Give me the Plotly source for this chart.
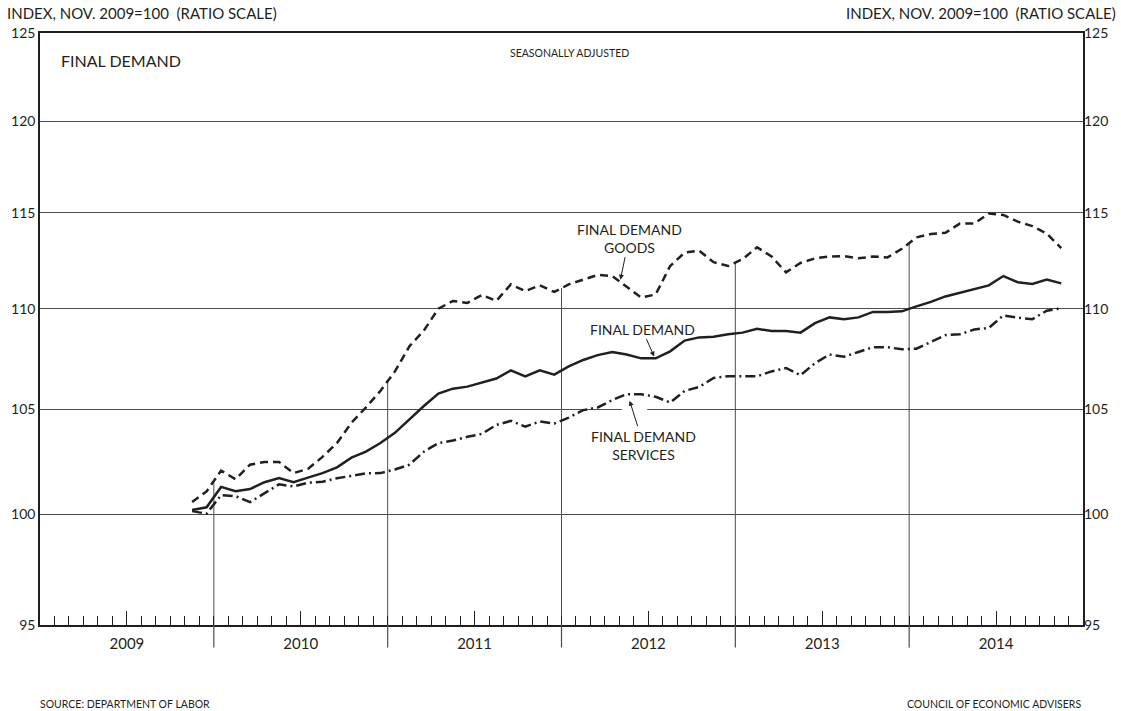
import numpy as np
import pandas as pd
import plotly.graph_objects as go

# ---------------- data ----------------
start_month = "2009-11"
n_months = 61
months = [str(p) for p in pd.period_range(start_month, periods=n_months, freq="M")]

final_demand_goods = [
    100.57, 101.07, 102.05, 101.64, 102.33, 102.46, 102.46, 101.93, 102.13, 102.70,
    103.36, 104.34, 105.08, 105.89, 106.85, 108.10, 108.90, 110.00, 110.40, 110.30,
    110.70, 110.40, 111.25, 110.90, 111.20, 110.86, 111.25, 111.50, 111.74, 111.68,
    111.14, 110.57, 110.73, 112.20, 112.90, 113.00, 112.40, 112.20, 112.56, 113.18,
    112.70, 111.87, 112.36, 112.60, 112.70, 112.72, 112.60, 112.70, 112.65, 113.10,
    113.70, 113.88, 113.94, 114.43, 114.43, 114.97, 114.89, 114.53, 114.30, 113.90,
    113.13,
]
final_demand = [
    100.20, 100.33, 101.28, 101.08, 101.18, 101.50, 101.70, 101.50, 101.72, 101.93,
    102.20, 102.66, 102.95, 103.36, 103.85, 104.50, 105.15, 105.76, 106.00, 106.10,
    106.30, 106.50, 106.90, 106.60, 106.90, 106.69, 107.10, 107.42, 107.66, 107.82,
    107.69, 107.50, 107.50, 107.85, 108.39, 108.55, 108.58, 108.71, 108.79, 108.98,
    108.87, 108.87, 108.79, 109.27, 109.56, 109.47, 109.56, 109.84, 109.84, 109.87,
    110.12, 110.35, 110.63, 110.83, 111.03, 111.20, 111.68, 111.36, 111.27, 111.50,
    111.30,
]
final_demand_services = [
    100.15, 100.03, 100.90, 100.85, 100.57, 100.98, 101.40, 101.30, 101.48, 101.52,
    101.69, 101.80, 101.92, 101.93, 102.10, 102.33, 102.95, 103.36, 103.48, 103.66,
    103.80, 104.23, 104.43, 104.15, 104.40, 104.30, 104.59, 104.95, 105.08, 105.44,
    105.73, 105.73, 105.60, 105.32, 105.89, 106.08, 106.53, 106.61, 106.61, 106.61,
    106.85, 107.02, 106.66, 107.26, 107.69, 107.58, 107.82, 108.06, 108.06, 107.95,
    107.98, 108.31, 108.66, 108.71, 108.95, 109.03, 109.66, 109.55, 109.47, 109.90,
    110.03,
]
years = ["2009", "2010", "2011", "2012", "2013", "2014"]
y_ticks = [95, 100, 105, 110, 115, 120, 125]

# ---------------- positions ----------------
first_year = int(years[0])
x = [(int(m[:4]) - first_year) * 12 + int(m[5:7]) - 1 + 0.5 for m in months]
x_max = 12 * len(years)
year_starts = [12 * i for i in range(1, len(years))]
year_mids = [12 * i + 6 for i in range(len(years))]

INK = "#231f20"
GRID = "#4d4d4d"
FONT = "Lato"

fig = go.Figure()

# vertical year lines from the base up to the goods line
for xs in year_starts:
    top = float(np.interp(xs, x, final_demand_goods))
    fig.add_trace(go.Scatter(x=[xs, xs], y=[y_ticks[0], top], mode="lines",
                             line=dict(color=GRID, width=1), hoverinfo="skip"))

# white break of the 105 grid line where the services arrow crosses
serv_lab_x = 41.67
fig.add_trace(go.Scatter(x=[serv_lab_x - 1.5, serv_lab_x + 0.25], y=[105, 105], mode="lines",
                         line=dict(color="white", width=3), hoverinfo="skip"))

fig.add_trace(go.Scatter(x=x, y=final_demand_goods, mode="lines", name="Final demand goods",
                         line=dict(color=INK, width=2.5, dash="8px,5px")))
fig.add_trace(go.Scatter(x=x, y=final_demand, mode="lines", name="Final demand",
                         line=dict(color=INK, width=2.5)))
fig.add_trace(go.Scatter(x=x, y=final_demand_services, mode="lines", name="Final demand services",
                         line=dict(color=INK, width=2.5, dash="10px,4px,2px,4px")))
# anchor for right axis
fig.add_trace(go.Scatter(x=[x[0]], y=[final_demand[0]], yaxis="y2", mode="markers",
                         marker=dict(opacity=0), hoverinfo="skip"))

# year boundary ticks below the axis
for xs in year_starts:
    fig.add_shape(type="line", xref="x", yref="paper", x0=xs, x1=xs, y0=-0.038, y1=0,
                  line=dict(color=GRID, width=1.2))

lr = [np.log10(y_ticks[0]), np.log10(y_ticks[-1])]

fig.update_layout(
    width=1121, height=711,
    margin=dict(l=40, r=38, t=33, b=86, autoexpand=False),
    paper_bgcolor="white", plot_bgcolor="white",
    showlegend=False,
    font=dict(family=FONT, color=INK, size=14),
    xaxis=dict(range=[0, x_max], showline=True, linecolor=INK, linewidth=1.5, mirror=True,
               showgrid=False, zeroline=False, automargin=False,
               tickmode="array", tickvals=year_mids, ticktext=years,
               ticks="inside", ticklen=14, tickwidth=1, tickcolor=INK,
               ticklabelstandoff=4,
               tickfont=dict(size=15, family=FONT, color=INK),
               minor=dict(tickmode="linear", tick0=0, dtick=1, ticks="inside",
                          ticklen=9, tickwidth=1, tickcolor=INK)),
    yaxis=dict(type="log", range=lr, tickmode="array", tickvals=y_ticks,
               ticktext=[str(v) for v in y_ticks], automargin=False,
               showgrid=True, gridcolor=GRID, gridwidth=1.3, zeroline=False,
               showline=True, linecolor=INK, linewidth=1.5, mirror=True, ticks="",
               tickfont=dict(size=14, family=FONT, color=INK)),
    yaxis2=dict(type="log", range=lr, overlaying="y", side="right", tickmode="array",
                tickvals=y_ticks, ticktext=[str(v) for v in y_ticks], automargin=False,
                showgrid=False, zeroline=False, showline=False, ticks="",
                tickfont=dict(size=14, family=FONT, color=INK)),
)

def ann_paper(text, xp, yp, xanchor, size):
    fig.add_annotation(text=text, xref="paper", yref="paper", x=xp, y=yp,
                       xanchor=xanchor, yanchor="middle", showarrow=False,
                       font=dict(size=size, family=FONT, color=INK))

ann_paper("INDEX, NOV. 2009=100  (RATIO SCALE)", -0.034, 1.034, "left", 15)
ann_paper("INDEX, NOV. 2009=100  (RATIO SCALE)", 1.034, 1.034, "right", 15)
ann_paper("FINAL DEMAND", 0.018, 0.953, "left", 16)
ann_paper("SEASONALLY ADJUSTED", 0.508, 0.966, "center", 10.5)
ann_paper("SOURCE: DEPARTMENT OF LABOR", -0.002, -0.134, "left", 10.5)
ann_paper("COUNCIL OF ECONOMIC ADVISERS", 1.0, -0.134, "right", 10.5)

def ann_arrow(text, series, head_x, text_x, text_y, standoff):
    head_y = float(np.interp(head_x, x, series))
    fig.add_annotation(text=text, x=head_x, y=np.log10(head_y), xref="x", yref="y",
                       ax=text_x, ay=np.log10(text_y), axref="x", ayref="y",
                       showarrow=True, arrowhead=2, arrowsize=1, arrowwidth=1,
                       arrowcolor=INK, standoff=standoff,
                       font=dict(size=14, family=FONT, color=INK), align="center")

ann_arrow("FINAL DEMAND<br>GOODS", final_demand_goods, 40.04, 40.66, 113.66, 2)
ann_arrow("FINAL DEMAND", final_demand, 42.45, 41.56, 108.97, 2)
ann_arrow("FINAL DEMAND<br>SERVICES", final_demand_services, 40.56, serv_lab_x, 103.26, 7)

fig.write_html("out.html", config={"displayModeBar": False},
               post_script="document.body.style.margin='0';")
